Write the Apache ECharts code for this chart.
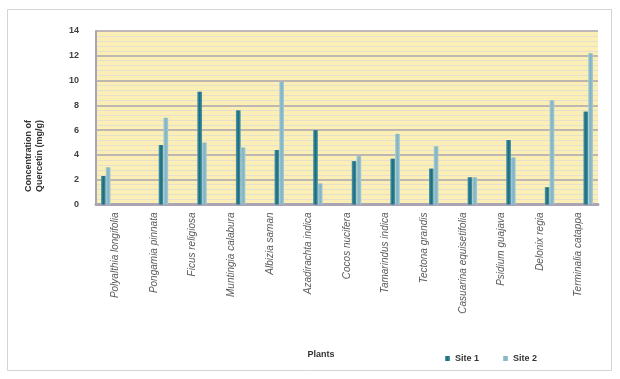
<!DOCTYPE html>
<html>
<head>
<meta charset="utf-8">
<script src="https://cdn.jsdelivr.net/npm/echarts@6/dist/echarts.min.js"></script>
<style>
  html, body { margin: 0; padding: 0; background: #ffffff; }
  #chart { width: 620px; height: 379px; }
</style>
</head>
<body>
<div id="chart"></div>
<script>
// Quercetin content (mg/g) of leaves from two sampling sites
const categories = [
  'Polyalthia longifolia', 'Pongamia pinnata', 'Ficus religiosa', 'Muntingia calabura',
  'Albizia saman', 'Azadirachta indica', 'Cocos nucifera', 'Tamarindus indica',
  'Tectona grandis', 'Casuarina equisetifolia', 'Psidium guajava', 'Delonix regia',
  'Terminalia catappa'
];
const site1 = [2.3, 4.8, 9.1, 7.6, 4.4, 6.0, 3.5, 3.7, 2.9, 2.2, 5.2, 1.4, 7.5];
const site2 = [3.0, 7.0, 5.0, 4.6, 9.9, 1.7, 3.9, 5.7, 4.7, 2.2, 3.8, 8.4, 12.2];
const yTicks = [0, 2, 4, 6, 8, 10, 12, 14];

// The first species sits in its own bar slot (left of centre); the rest use the right slot.
const firstOnly = arr => arr.map((v, i) => (i === 0 ? v : '-'));
const restOnly = arr => arr.map((v, i) => (i === 0 ? '-' : v));
const gap = categories.map(() => '-');

function cyl(edge, mid) {
  return new echarts.graphic.LinearGradient(0, 0, 1, 0, [
    { offset: 0, color: edge }, { offset: 0.5, color: mid }, { offset: 1, color: edge }
  ]);
}
const c1 = cyl('#4a9db0', '#1f6878');
const c2 = cyl('#a9ccd6', '#7eb2c2');

const barW = 4.75;
const chart = echarts.init(document.getElementById('chart'), null, { renderer: 'canvas' });
chart.setOption({
  animation: false,
  backgroundColor: '#ffffff',
  textStyle: { fontFamily: 'Liberation Sans, Arial, sans-serif' },
  grid: {
    left: 96, right: 22, top: 31, bottom: 174.5,
    show: true, backgroundColor: '#fbefb6', borderWidth: 0
  },
  legend: {
    data: ['Site 1', 'Site 2'],
    left: 440, top: 349,
    icon: 'rect', itemWidth: 5, itemHeight: 5, itemGap: 24,
    textStyle: { fontSize: 9, fontWeight: 'bold', color: '#333' }
  },
  xAxis: {
    type: 'category',
    data: categories,
    boundaryGap: true,
    axisLine: { show: true, lineStyle: { color: '#aaa4b4', width: 3 } },
    axisTick: { show: false },
    axisLabel: {
      interval: 0, rotate: 90, margin: 8,
      fontSize: 10, fontStyle: 'italic', color: '#5a5a5a'
    },
    splitLine: { show: false }
  },
  yAxis: {
    type: 'value',
    min: yTicks[0], max: yTicks[yTicks.length - 1], interval: 2,
    axisLine: { show: true, lineStyle: { color: '#aaa4b4', width: 2 } },
    axisTick: { show: false },
    axisLabel: { fontSize: 9, fontWeight: 'bold', color: '#404040', margin: 17 },
    splitLine: { show: true, lineStyle: { color: '#aaa3ae', width: 1.5 } },
    minorTick: { show: false, splitNumber: 5 },
    minorSplitLine: { show: true, lineStyle: { color: '#e4dfcf', width: 1 } }
  },
  series: [
    { name: 'Site 1', type: 'bar', data: firstOnly(site1), barWidth: barW, barGap: '0%',
      itemStyle: { color: c1 } },
    { name: 'Site 2', type: 'bar', data: firstOnly(site2), barWidth: barW, barGap: '0%',
      itemStyle: { color: c2 } },
    { name: 'slot', type: 'bar', data: gap, barWidth: barW * 2, barGap: '0%',
      legendHoverLink: false },
    { name: 'Site 1', type: 'bar', data: restOnly(site1), barWidth: barW, barGap: '0%',
      itemStyle: { color: c1 } },
    { name: 'Site 2', type: 'bar', data: restOnly(site2), barWidth: barW, barGap: '0%',
      itemStyle: { color: c2 } }
  ],
  graphic: [
    { type: 'rect', silent: true, z: -10,
      shape: { x: 7.5, y: 9.5, width: 604, height: 361 },
      style: { fill: 'none', stroke: '#d4d4d4', lineWidth: 1 } },
    { type: 'text', x: 34, y: 156, rotation: Math.PI / 2,
      style: { text: 'Concentration of\nQuercetin (mg/g)', align: 'center', verticalAlign: 'middle',
        fontSize: 9, fontWeight: 'bold', fill: '#333', lineHeight: 11,
        fontFamily: 'Liberation Sans, Arial, sans-serif' } },
    { type: 'text', x: 321, y: 355,
      style: { text: 'Plants', align: 'center', verticalAlign: 'middle',
        fontSize: 9, fontWeight: 'bold', fill: '#333',
        fontFamily: 'Liberation Sans, Arial, sans-serif' } }
  ]
});
</script>
</body>
</html>
